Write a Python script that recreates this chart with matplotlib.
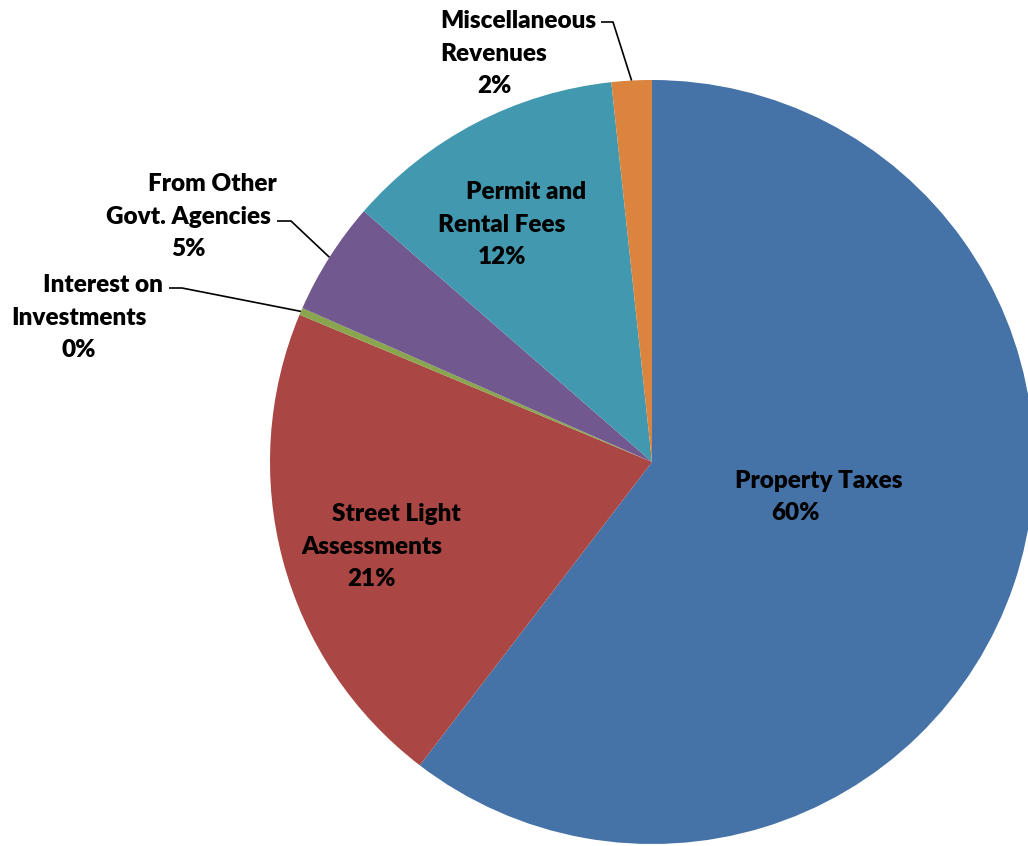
import matplotlib.pyplot as plt
import numpy as np

# Revenue shares (percent), clockwise from 12 o'clock
categories = ["Property Taxes", "Street Light\nAssessments", "Interest on\nInvestments",
              "From Other\nGovt. Agencies", "Permit and\nRental Fees", "Miscellaneous\nRevenues"]
values = [60.4, 20.9, 0.3, 4.8, 11.9, 1.7]
pct_labels = ["60%", "21%", "0%", "5%", "12%", "2%"]
colors = ["#4572A7", "#AA4643", "#89A54E", "#71588F", "#4198AF", "#DB843D"]

W, H = 1028, 846
CX, CY, R = 652, 462, 382
LINE_H = 32.5      # px between label lines
FIRST_SHIFT = 24   # first label line sits a bit to the right


def px(x, y):
    """image pixel (y down) -> data coords (y up)"""
    return x, H - y


fig = plt.figure(figsize=(W / 100, H / 100), dpi=100)
ax = fig.add_axes([0, 0, 1, 1])

wedges, _ = ax.pie(values, colors=colors, startangle=90, counterclock=False,
                   center=px(CX, CY), radius=R,
                   wedgeprops=dict(linewidth=0, antialiased=True))
ax.set_xlim(0, W)
ax.set_ylim(0, H)
ax.set_aspect('equal')
ax.axis('off')

font = dict(family=['Lato', 'DejaVu Sans'], fontsize=17.5, fontweight='heavy',
            color='black')

# label anchors: x centre of lower lines, y centre of first line
label_pos = [(795, 481), (372, 514), (79, 285), (188, 184), (502, 192), (494, 21)]
for name, pct, (lx, ly) in zip(categories, pct_labels, label_pos):
    lines = name.split('\n') + [pct]
    for i, line in enumerate(lines):
        x = lx + (FIRST_SHIFT if i == 0 else 0)
        ax.text(*px(x, ly + i * LINE_H), line, ha='center', va='center', **font)

# leader lines for the outside labels: start point, elbow -> edge at wedge mid-angle
leaders = {2: ((169, 288), (182, 288)),
           3: ((277, 221), (291, 221)),
           5: ((601, 22), (613, 22))}
for idx, (start, elbow) in leaders.items():
    w = wedges[idx]
    mid = np.deg2rad((w.theta1 + w.theta2) / 2)
    cx, cy = w.center
    ex, ey = cx + R * np.cos(mid), cy + R * np.sin(mid)
    xs = [px(*start)[0], px(*elbow)[0], ex]
    ys = [px(*start)[1], px(*elbow)[1], ey]
    ax.plot(xs, ys, color='black', linewidth=1.2, solid_capstyle='butt')

fig.savefig("out.png", dpi=100)
